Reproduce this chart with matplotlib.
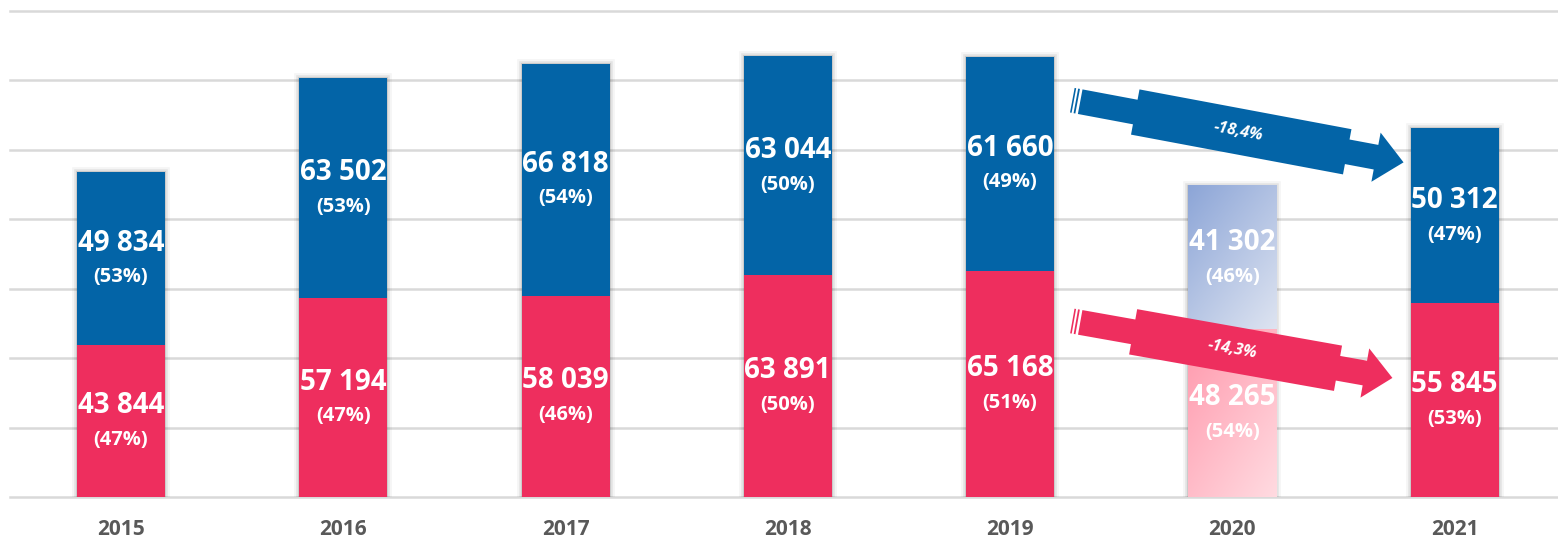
import numpy as np
import matplotlib.pyplot as plt
from matplotlib.patches import Polygon
import matplotlib.patheffects as pe

plt.rcParams['font.family'] = ['Open Sans', 'DejaVu Sans']

years = ['2015', '2016', '2017', '2018', '2019', '2020', '2021']
red_vals = [43844, 57194, 58039, 63891, 65168, 48265, 55845]
blue_vals = [49834, 63502, 66818, 63044, 61660, 41302, 50312]
red_pct = ['47%', '47%', '46%', '50%', '51%', '54%', '53%']
blue_pct = ['53%', '53%', '54%', '50%', '49%', '46%', '47%']

# arrows: (x0, y0, x1, y1, label)
blue_arrow = (4.28, 114300, 5.77, 96400, '-18,4%')
red_arrow = (4.28, 50700, 5.72, 34300, '-14,3%')

BLUE = '#0364A7'
RED = '#EE2E5E'
faded = 5  # index of 2020

fig = plt.figure(figsize=(15.58, 5.39), dpi=100)
ax = fig.add_axes([9.8 / 1558, 42 / 539, 1556 / 1558, 486 / 539])
ax.set_xlim(-0.5, 6.5)
ax.set_ylim(0, 140000)

x = np.arange(len(years))
w = 0.396
totals = [r + b for r, b in zip(red_vals, blue_vals)]

shadow = [pe.Stroke(linewidth=7, foreground='k', alpha=0.04),
          pe.Stroke(linewidth=4, foreground='k', alpha=0.07),
          pe.Stroke(linewidth=1.5, foreground='k', alpha=0.1)]
ax.bar(x, totals, w, color='#999999', linewidth=0, zorder=1.5, path_effects=shadow)

solid = [i for i in x if i != faded]
ax.bar([x[i] for i in solid], [red_vals[i] for i in solid], w, color=RED, zorder=2)
ax.bar([x[i] for i in solid], [blue_vals[i] for i in solid], w,
       bottom=[red_vals[i] for i in solid], color=BLUE, zorder=2)


def gradient(c0, c1, n=200):
    X, Y = np.meshgrid(np.linspace(0, 1, n), np.linspace(0, 1, n))
    t = ((X * 0.45 + Y * 0.55))[..., None]
    return np.array(c0) / 255 * (1 - t) + np.array(c1) / 255 * t


xf = x[faded]
ax.imshow(gradient((255, 152, 172), (255, 219, 225)), aspect='auto', zorder=2,
          extent=[xf - w / 2, xf + w / 2, 0, red_vals[faded]], interpolation='bilinear')
ax.imshow(gradient((140, 165, 215), (222, 228, 241)), aspect='auto', zorder=2,
          extent=[xf - w / 2, xf + w / 2, red_vals[faded], totals[faded]],
          interpolation='bilinear')
ax.set_xlim(-0.5, 6.5)
ax.set_ylim(0, 140000)

for i in x:
    for bottom, val, pct in ((0, red_vals[i], red_pct[i]),
                             (red_vals[i], blue_vals[i], blue_pct[i])):
        yc = bottom + val / 2
        ax.annotate(f'{val:,}'.replace(',', ' '), (i, yc), xytext=(0, 11),
                    textcoords='offset points', ha='center', va='center',
                    color='white', fontsize=20, fontweight='bold', zorder=5)
        ax.annotate(f'({pct})', (i, yc), xytext=(0, -13.5),
                    textcoords='offset points', ha='center', va='center',
                    color='white', fontsize=14.5, fontweight='bold', zorder=5)

ax.set_yticks(range(0, 140001, 20000))
ax.yaxis.grid(True, color='#D9D9D9', linewidth=1.8)
for gl in ax.get_ygridlines():
    gl.set_clip_on(False)
ax.set_axisbelow(True)
ax.tick_params(axis='y', left=False, labelleft=False)
ax.set_xticks(x, years)
ax.tick_params(axis='x', length=0, pad=16, labelsize=15, labelcolor='#595959')
for lbl in ax.get_xticklabels():
    lbl.set_fontweight('bold')
for s in ax.spines.values():
    s.set_visible(False)


def draw_arrow(spec, color):
    x0, y0, x1, y1, label = spec
    p0 = ax.transData.transform((x0, y0))
    p1 = ax.transData.transform((x1, y1))
    d = p1 - p0
    L = np.hypot(*d)
    u = d / L
    n = np.array([-u[1], u[0]])
    h, H, hw, hl = 12.5, 23, 25, 28
    a, b = 0.19 * L, 0.83 * L
    body = [(8, h), (a, h), (a, H), (b, H), (b, h), (L - hl, h), (L - hl, hw), (L, 0),
            (L - hl, -hw), (L - hl, -h), (b, -h), (b, -H), (a, -H), (a, -h), (8, -h)]
    stripes = [[(0, h), (1.6, h), (1.6, -h), (0, -h)],
               [(3.6, h), (5.4, h), (5.4, -h), (3.6, -h)]]
    inv = ax.transData.inverted()
    for shape in [body] + stripes:
        pts = np.array([p0 + s * u + t * n for s, t in shape])
        ax.add_patch(Polygon(inv.transform(pts), closed=True, facecolor=color,
                             edgecolor='none', zorder=6, clip_on=False))
    mid = inv.transform(p0 + 0.5 * L * u)
    ang = np.degrees(np.arctan2(d[1], d[0]))
    ax.text(mid[0], mid[1], label, rotation=ang, rotation_mode='anchor',
            ha='center', va='center', color='white', fontsize=11.5,
            fontweight='bold', fontstyle='italic', zorder=7)


draw_arrow(blue_arrow, BLUE)
draw_arrow(red_arrow, RED)

fig.savefig('out.png', dpi=100, facecolor='white')
